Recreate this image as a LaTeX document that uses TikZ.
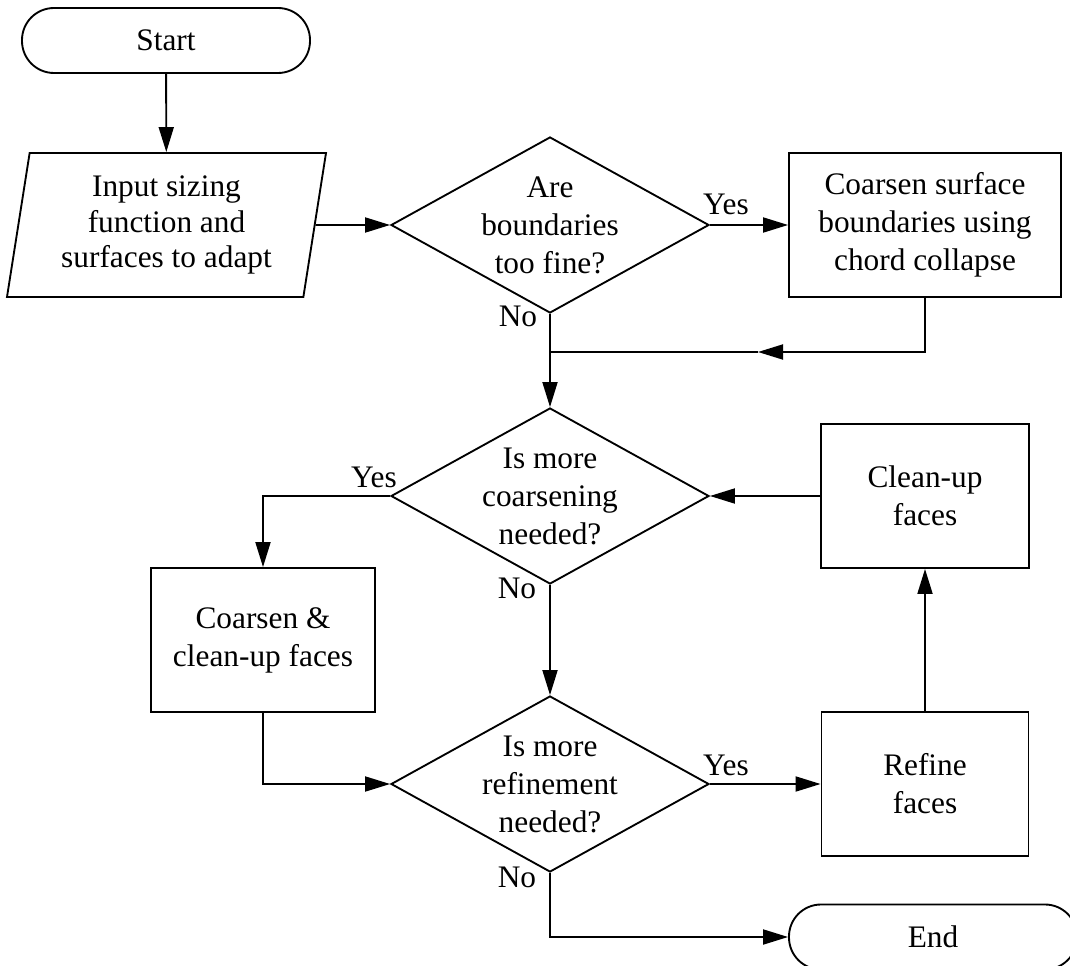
\documentclass[tikz,border=0pt]{standalone}
\usepackage{fontspec}
\setmainfont{Liberation Serif}
\usetikzlibrary{shapes.geometric,arrows.meta}

\tikzset{every picture/.style={line width=1.4pt}}
\tikzset{
  termnode/.style={draw, rectangle, rounded corners=24pt, minimum width=216pt, minimum height=48.75pt, inner sep=0pt},
  ionode/.style={draw, trapezium, trapezium left angle=77, trapezium right angle=103, trapezium stretches body, minimum width=239.25pt, minimum height=108pt, inner sep=0pt, align=center, font=\fontsize{23.5pt}{26.5pt}\selectfont},
  decnode/.style={draw, diamond, shape aspect=1.8, minimum width=238.5pt, minimum height=132pt, inner sep=0pt, align=center, font=\fontsize{23.5pt}{28.5pt}\selectfont},
  procnode/.style={draw, rectangle, minimum height=108pt, inner sep=0pt, align=center, font=\fontsize{23.5pt}{28.5pt}\selectfont},
  flowarrow/.style={-{Triangle[length=18.75pt,width=11.25pt]}},
  anslabel/.style={inner sep=0pt}
}

\begin{document}
\begin{tikzpicture}[x=0.75pt,y=0.75pt,yscale=-1,xscale=1,font=\fontsize{23.5pt}{26.5pt}\selectfont]
\useasboundingbox (0,0) rectangle (1070,966);

% Terminals
\node [termnode] (start) at (166,40.5) {Start};
\node [termnode] (end) at (933,937) {End};

% Input
\node [ionode] (input) at (166.5,225) {Input sizing\\function and\\surfaces to adapt};

% Decisions
\node [decnode] (finechk) at (550,225) {Are\\boundaries\\too fine?};
\node [decnode] (coarsechk) at (550,496) {Is more\\coarsening\\needed?};
\node [decnode] (refinechk) at (550,784) {Is more\\refinement\\needed?};

% Processes
\node [procnode, minimum width=204pt] (chordcol) at (925,225) {Coarsen surface\\boundaries using\\chord collapse};
\node [procnode, minimum width=168pt] (coarsen) at (263,640) {Coarsen \&\\clean-up faces};
\node [procnode, minimum width=156pt] (cleanup) at (925,496) {Clean-up\\faces};
\node [procnode, minimum width=155.25pt] (refine) at (925,784) {Refine\\faces};

% Merge point of the feedback line
\coordinate (merge) at (550,352);
\coordinate (fbtip) at (758,352);

% Connectors
\draw [flowarrow] (start) -- (input);
\draw [flowarrow] (input) -- (finechk);
\draw [flowarrow] (finechk) -- (chordcol);
\draw [flowarrow] (finechk) -- (coarsechk);
\draw [flowarrow] (chordcol.south) |- (fbtip);
\draw (fbtip) -- (merge);
\draw [flowarrow] (coarsechk.west) -| (coarsen.north);
\draw [flowarrow] (coarsen.south) |- (refinechk.west);
\draw [flowarrow] (coarsechk) -- (refinechk);
\draw [flowarrow] (refinechk) -- (refine);
\draw [flowarrow] (refine) -- (cleanup);
\draw [flowarrow] (cleanup) -- (coarsechk);
\draw [flowarrow] (refinechk.south) |- (end.west);

% Yes / No labels
\node [anslabel] (yes1) at (726,204) {Yes};
\node [anslabel] (no1) at (518,316) {No};
\node [anslabel] (yes2) at (374,477) {Yes};
\node [anslabel] (no2) at (517,588) {No};
\node [anslabel] (yes3) at (726,765) {Yes};
\node [anslabel] (no3) at (517,877) {No};

\end{tikzpicture}
\end{document}
